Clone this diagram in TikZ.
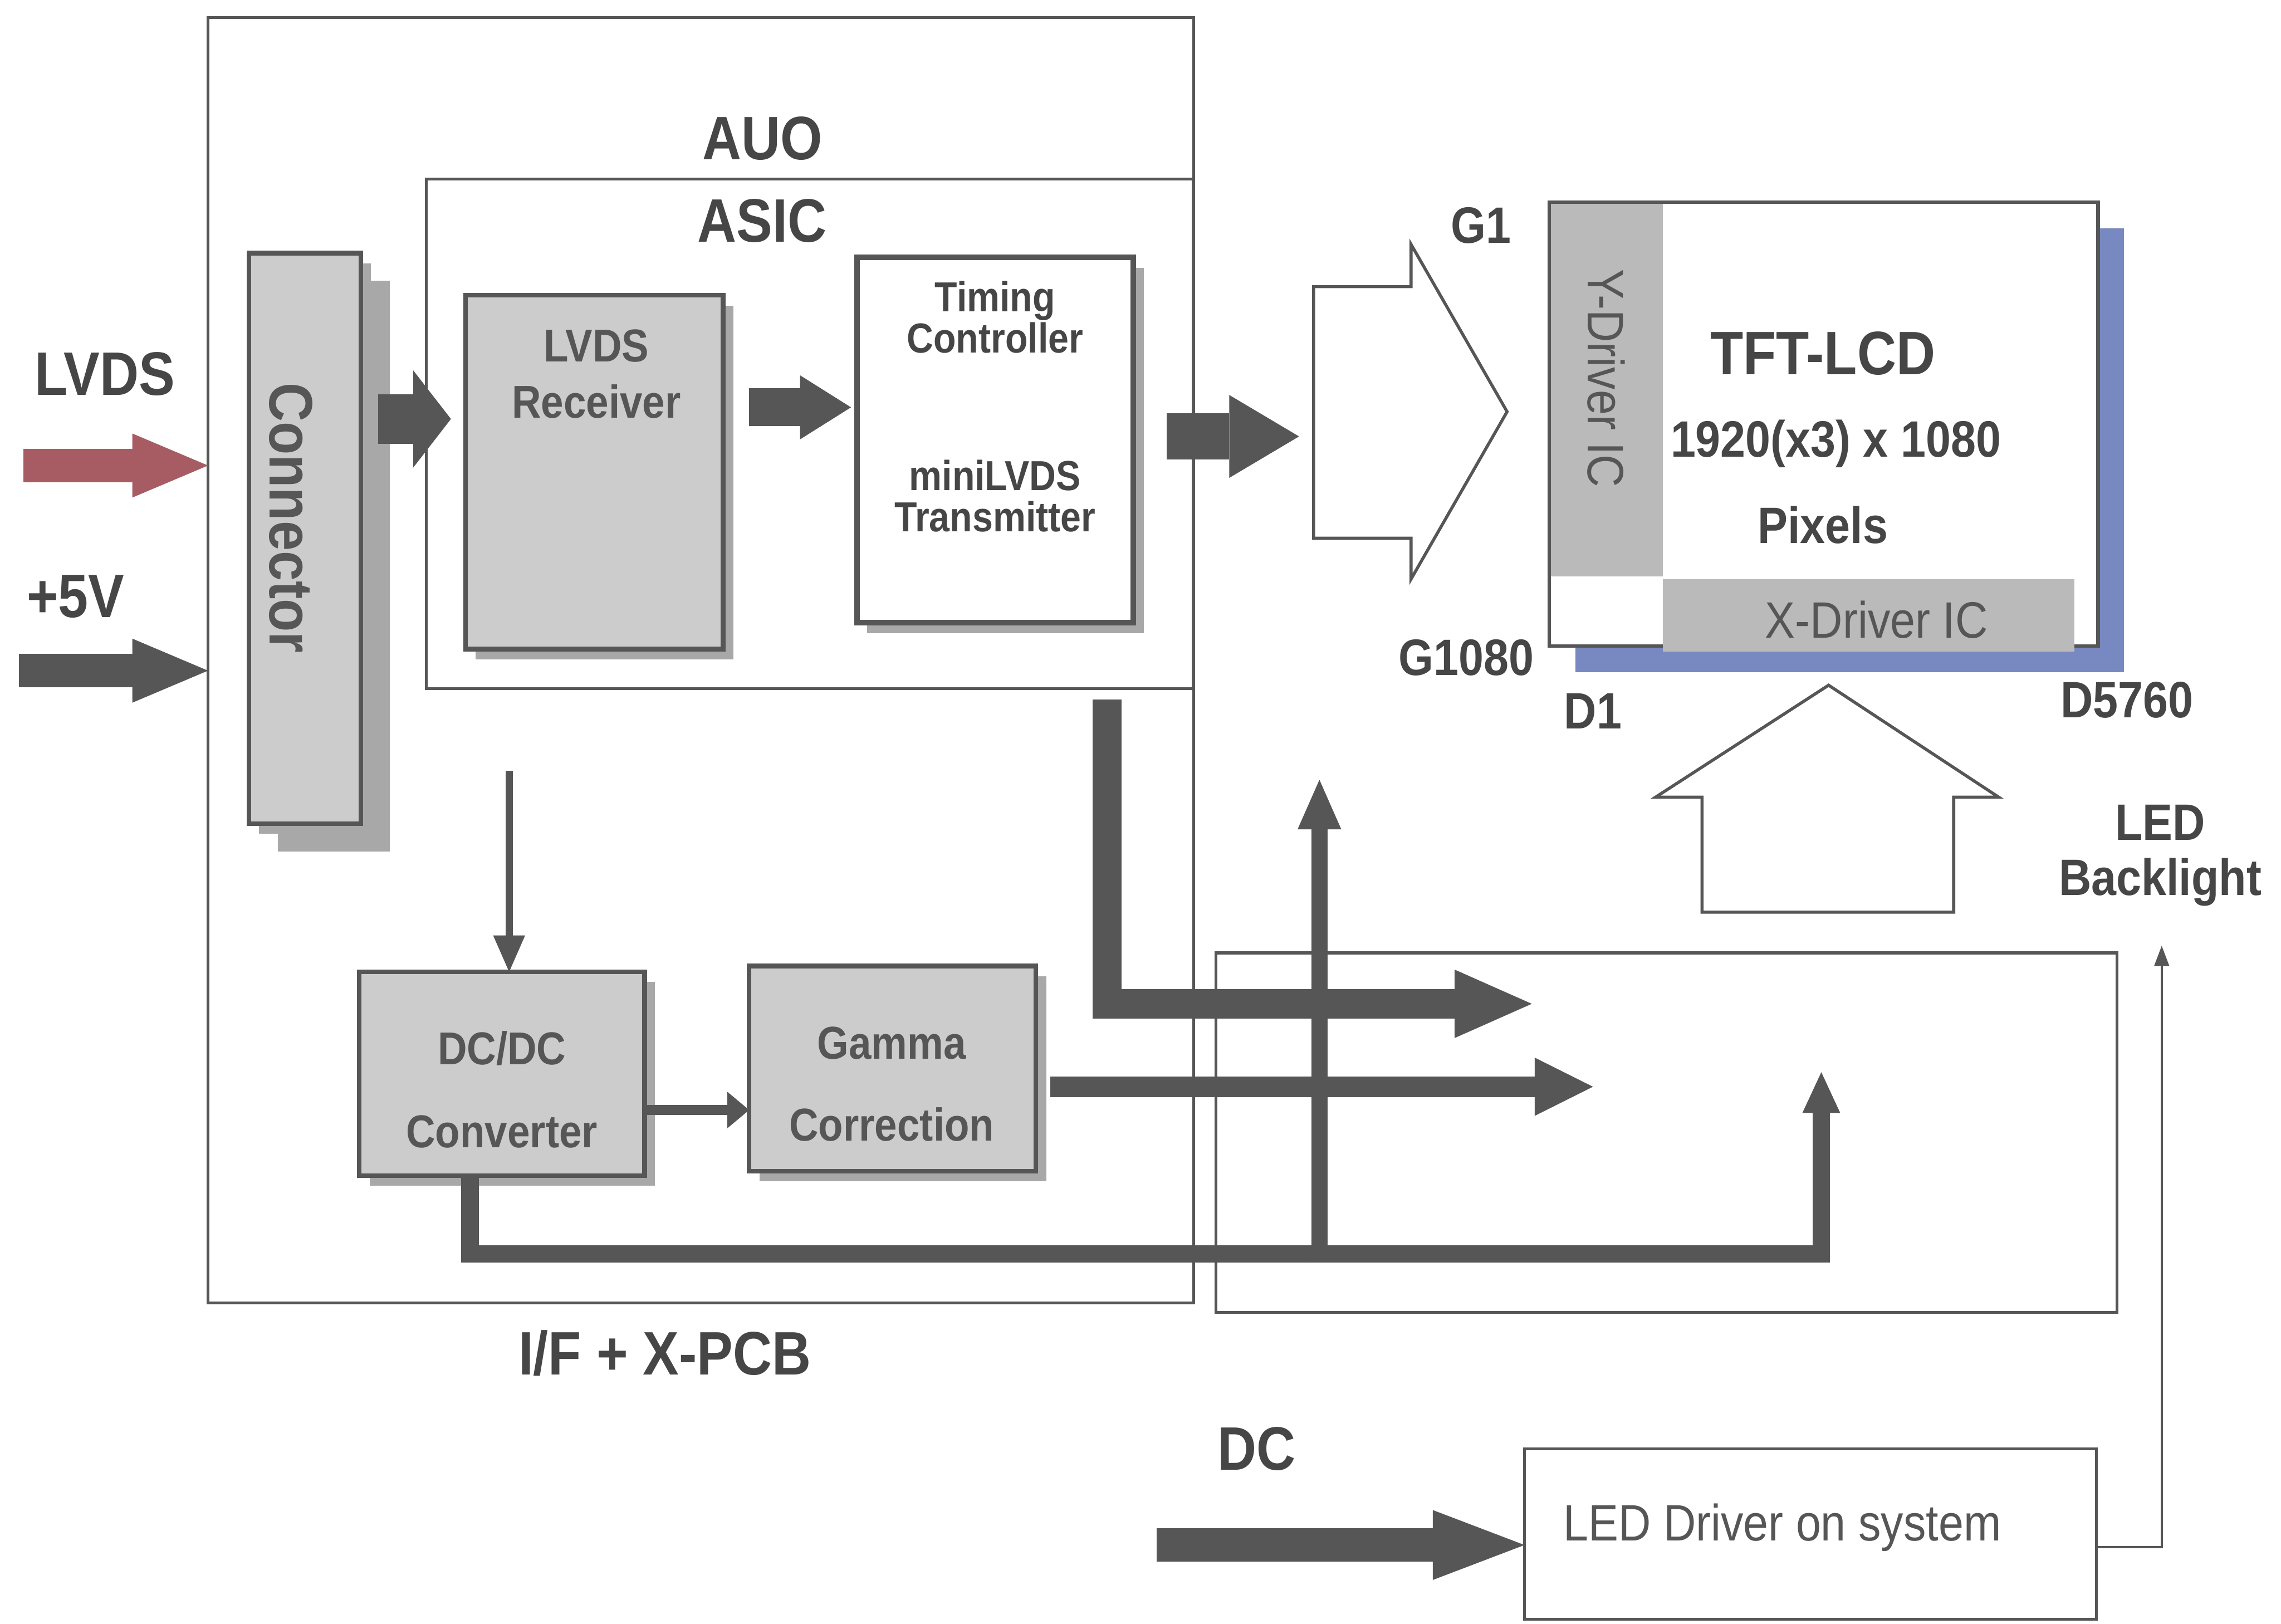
\documentclass[tikz,border=0pt]{standalone}
\usepackage{fontspec}
\setmainfont{Liberation Sans}[FakeStretch=0.88]
\usetikzlibrary{arrows.meta,positioning,shadows}

\definecolor{ink}{RGB}{86,86,86}
\definecolor{textgray}{RGB}{70,70,70}
\definecolor{blockgray}{RGB}{204,204,204}
\definecolor{shadegray}{RGB}{168,168,168}
\definecolor{drivergray}{RGB}{186,186,186}
\definecolor{panelblue}{RGB}{120,136,192}
\definecolor{lvdsred}{RGB}{166,92,98}

\begin{document}
\begin{tikzpicture}[
  x=0.01cm, y=-0.01cm,
  text=textgray,
  frame/.style={
    draw=ink,
    line width=0.55pt,
    anchor=north west,
    inner sep=0pt,
    outer sep=0pt
  },
  block/.style={
    draw=ink,
    line width=0.9pt,
    fill=blockgray,
    anchor=north west,
    inner sep=0pt,
    outer sep=0pt,
    drop shadow={shadow xshift=0.07cm,shadow yshift=-0.07cm,
      fill=shadegray,opacity=1}
  },
  driver/.style={
    fill=drivergray,
    anchor=north west,
    inner sep=0pt,
    outer sep=0pt
  },
  title/.style={font=\fontsize{12}{14}\selectfont\bfseries},
  block text/.style={font=\fontsize{9}{11}\selectfont\bfseries,text=ink,align=center},
  small text/.style={font=\fontsize{8.2}{8}\selectfont\bfseries,align=center},
  pin text/.style={font=\fontsize{10}{10.8}\selectfont\bfseries,align=center},
  plain text/.style={font=\fontsize{10}{12}\selectfont,text=ink},
  hollow/.style={draw=ink,line width=0.6pt,fill=white,line join=miter},
  in arrow/.style={
    draw=ink,
    line width=0.23cm,
    -{Triangle[length=0.52cm,width=0.44cm,line width=0pt]}
  },
  block arrow/.style={
    draw=ink,
    line width=#1
  },
  bus/.style={
    draw=ink,
    line width=#1,
    line join=miter
  },
  thin arrow/.style={
    draw=ink,
    line width=0.5pt,
    -{Triangle[length=0.14cm,width=0.1cm]}
  }
]
\useasboundingbox (0,0) rectangle (1568,1116);

% I/F + X-PCB and ASIC frames
\node[frame,minimum width=6.77cm,minimum height=8.83cm] (auo) at (143,12) {};
\node[frame,minimum width=5.27cm,minimum height=3.50cm] (asic) at (293,123) {};
\node[title] (auo-title) at (524,95) {AUO};
\node[title] (asic-title) at (524,152) {ASIC};
\node[frame,minimum width=6.19cm,minimum height=2.47cm] (backlight-frame) at (836,655) {};

% blocks
\node[block,minimum width=0.77cm,minimum height=3.92cm,
  drop shadow={shadow xshift=0.2cm,shadow yshift=-0.19cm,fill=shadegray,opacity=1}]
  (connector) at (171,174) {};
\node[rotate=-90,font=\fontsize{12}{14}\selectfont\bfseries,text=ink]
  (connector-label) at (200,356) {Connector};

\node[block,minimum width=1.77cm,minimum height=2.43cm] (receiver) at (320,203) {};
\node[block text] (receiver-label) at (410,257) {LVDS\\Receiver};

\node[block,fill=white,line width=1.1pt,minimum width=1.90cm,minimum height=2.51cm]
  (timing) at (589,177) {};
\node[small text] (timing-label) at (684,218) {Timing\\Controller};
\node[small text] (tx-label) at (684,341) {miniLVDS\\Transmitter};

\node[block,minimum width=1.96cm,minimum height=1.40cm] (dcdc) at (247,668) {};
\node[block text,font=\fontsize{9}{16.2}\selectfont\bfseries] (dcdc-label) at (345,749) {DC/DC\\Converter};

\node[block,minimum width=1.97cm,minimum height=1.41cm] (gamma) at (515,664) {};
\node[block text,font=\fontsize{9}{16}\selectfont\bfseries] (gamma-label) at (613,745) {Gamma\\Correction};

% panel
\node[frame,fill=white,line width=0.7pt,minimum width=3.77cm,minimum height=3.05cm,
  drop shadow={shadow xshift=0.18cm,shadow yshift=-0.18cm,fill=panelblue,opacity=1}]
  (lcd) at (1065,139) {};
\node[driver,minimum width=0.77cm,minimum height=2.56cm] (ydriver) at (1066,140) {};
\node[driver,minimum width=2.83cm,minimum height=0.50cm] (xdriver) at (1143,398) {};
\node[plain text,rotate=-90] (ydriver-label) at (1104,260) {Y-Driver IC};
\node[plain text] (xdriver-label) at (1290,426) {X-Driver IC};
\node[font=\fontsize{12}{14}\selectfont\bfseries] (lcd-title) at (1253,243) {TFT-LCD};
\node[pin text] (lcd-res) at (1262,305) {1920(x3) x 1080};
\node[pin text] (lcd-pix) at (1253,361) {Pixels};

\node[pin text] (g1) at (1018,155) {G1};
\node[pin text] (g1080) at (1008,452) {G1080};
\node[pin text] (d1) at (1095,489) {D1};
\node[pin text] (d5760) at (1462,481) {D5760};
\node[pin text] (backlight-label) at (1485,588) {LED\\Backlight};

% LED driver
\node[frame,minimum width=3.93cm,minimum height=1.17cm] (leddriver) at (1048,996) {};
\node[plain text,anchor=west,inner xsep=0pt] (leddriver-label) at (1074,1050) {LED Driver on system};

% hollow arrows
\draw[hollow] (903,197) -- (970,197) -- (970,168) -- (1036,283) -- (970,398)
  -- (970,370) -- (903,370) -- cycle;
\coordinate (fan-tail) at (903,300);
\draw[hollow] (1170,627) -- (1170,548) -- (1138,548) -- (1257,471) -- (1374,548)
  -- (1343,548) -- (1343,627) -- cycle;

% inputs
\node[title] (lvds-label) at (72,257) {LVDS};
\node[title] (p5-label) at (52,410) {+5V};
\node[title] (dc-label) at (864,996) {DC};
\node[title] (pcb-label) at (457,930) {I/F + X-PCB};

\coordinate (lvds-in) at (16,320);
\coordinate (p5-in) at (13,461);
\coordinate (dc-in) at (795,1062);
\draw[in arrow,draw=lvdsred] (lvds-in) -- (lvds-in -| auo.west);
\draw[in arrow] (p5-in) -- (p5-in -| auo.west);
\draw[in arrow,-{Triangle[length=0.63cm,width=0.48cm,line width=0pt]}]
  (dc-in) -- (dc-in -| leddriver.west);

% data path
\coordinate (conn-out) at (260,288);
\coordinate (rx-out) at (515,280);
\coordinate (tc-out) at (802,300);
\draw[block arrow=0.34cm,-{Triangle[length=0.26cm,width=0.67cm,line width=0pt]}]
  (conn-out) -- ([xshift=-0.1cm]conn-out -| receiver.west);
\draw[block arrow=0.26cm,-{Triangle[length=0.35cm,width=0.44cm,line width=0pt]}]
  (rx-out) -- ([xshift=-0.04cm]rx-out -| timing.west);
\draw[block arrow=0.32cm,-{Triangle[length=0.48cm,width=0.57cm,line width=0pt]}]
  (tc-out) -- ([xshift=-0.1cm]tc-out -| fan-tail);

% power and buses
\coordinate (asic-tap) at (350,530);
\draw[draw=ink,line width=0.05cm,-{Triangle[length=0.25cm,width=0.22cm,line width=0pt]}]
  (asic-tap) -- (asic-tap |- dcdc.north);
\coordinate (dcdc-out) at (443,763);
\draw[draw=ink,line width=0.07cm,-{Triangle[length=0.15cm,width=0.25cm,line width=0pt]}]
  (dcdc-out) -- (dcdc-out -| gamma.west);

\coordinate (tc-bus) at (761,481);
\coordinate (bus1-end) at (1053,690);
\draw[bus=0.2cm,-{Triangle[length=0.53cm,width=0.47cm,line width=0pt]}]
  (tc-bus) |- (bus1-end);

\coordinate (gamma-bus) at (722,747);
\coordinate (bus2-end) at (1095,747);
\draw[bus=0.14cm,-{Triangle[length=0.4cm,width=0.4cm,line width=0pt]}]
  (gamma-bus) -- (bus2-end);

\coordinate (dcdc-tap) at ([xshift=0.76cm]dcdc.south west);
\coordinate (bus3-turn) at (1252,862);
\coordinate (bus3-end) at (1252,737);
\draw[bus=0.12cm,-{Triangle[length=0.28cm,width=0.26cm,line width=0pt]}]
  (dcdc-tap) |- (bus3-turn) -- (bus3-end);
\coordinate (branch-root) at (907,868);
\coordinate (branch-end) at (907,536);
\draw[bus=0.11cm,-{Triangle[length=0.34cm,width=0.3cm,line width=0pt]}]
  (branch-root) -- (branch-end);

% backlight feed
\coordinate (backlight-in) at (1486,650);
\draw[thin arrow] ([yshift=-0.09cm]leddriver.east) -| (backlight-in);

\end{tikzpicture}
\end{document}
